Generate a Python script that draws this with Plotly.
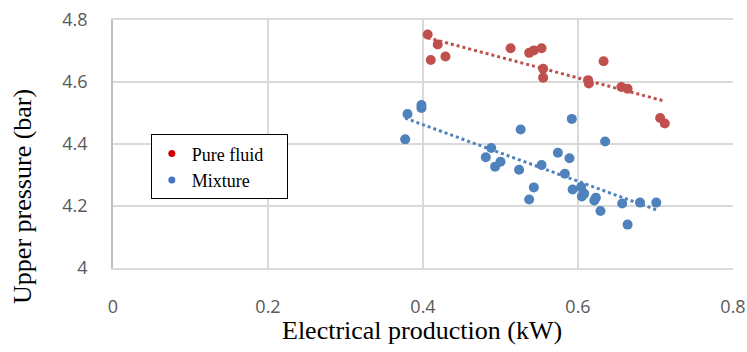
import numpy as np
import plotly.graph_objects as go

pure_x = [0.406, 0.419, 0.410, 0.429, 0.513, 0.537, 0.543, 0.553, 0.555, 0.555,
          0.633, 0.613, 0.614, 0.656, 0.664, 0.706, 0.712]
pure_y = [4.753, 4.721, 4.671, 4.682, 4.709, 4.694, 4.702, 4.709, 4.643, 4.614,
          4.667, 4.606, 4.595, 4.584, 4.578, 4.484, 4.466]

mix_x = [0.380, 0.398, 0.398, 0.377, 0.526, 0.488, 0.481, 0.493, 0.500, 0.524,
         0.553, 0.543, 0.537, 0.574, 0.592, 0.635, 0.589, 0.583, 0.593, 0.604,
         0.605, 0.608, 0.621, 0.623, 0.629, 0.657, 0.680, 0.701, 0.664]
mix_y = [4.497, 4.526, 4.516, 4.415, 4.447, 4.387, 4.357, 4.327, 4.343, 4.317,
         4.332, 4.260, 4.221, 4.372, 4.481, 4.408, 4.354, 4.304, 4.253, 4.261,
         4.231, 4.240, 4.218, 4.227, 4.184, 4.208, 4.211, 4.211, 4.140]

x_ticks = [0, 0.2, 0.4, 0.6, 0.8]
x_tick_labels = ["0", "0.2", "0.4", "0.6", "0.8"]
y_ticks = [4.0, 4.2, 4.4, 4.6, 4.8]
y_tick_labels = ["4", "4.2", "4.4", "4.6", "4.8"]

RED = "#C0504D"
BLUE = "#4F81BD"

fig = go.Figure()

def trend(xs, ys):
    a, b = np.polyfit(xs, ys, 1)
    xx = np.array([min(xs), max(xs)])
    return xx, a * xx + b

tx, ty = trend(pure_x, pure_y)
fig.add_trace(go.Scatter(x=tx, y=ty, mode="lines", line=dict(color=RED, width=3, dash="dot"),
                         showlegend=False, hoverinfo="skip"))
tx, ty = trend(mix_x, mix_y)
fig.add_trace(go.Scatter(x=tx, y=ty, mode="lines", line=dict(color=BLUE, width=3, dash="dot"),
                         showlegend=False, hoverinfo="skip"))

fig.add_trace(go.Scatter(x=pure_x, y=pure_y, mode="markers",
                         marker=dict(color=RED, size=10), showlegend=False))
fig.add_trace(go.Scatter(x=mix_x, y=mix_y, mode="markers",
                         marker=dict(color=BLUE, size=10), showlegend=False))

# legend entries
NB = "\u00a0" * 4
fig.add_trace(go.Scatter(x=[None], y=[None], mode="markers", name="Pure fluid" + NB,
                         marker=dict(color="#CC0000", size=7)))
fig.add_trace(go.Scatter(x=[None], y=[None], mode="markers", name="Mixture",
                         marker=dict(color="#4472C4", size=7)))

tick_font = dict(family="Open Sans, Liberation Sans, sans-serif", size=18, color="#595959")
title_font = dict(family="Liberation Serif, Times New Roman, serif", size=26, color="black")

fig.update_layout(
    width=747, height=352,
    margin=dict(l=113, r=14, t=20, b=84),
    paper_bgcolor="white", plot_bgcolor="white",
    showlegend=True,
    legend=dict(x=0.061, y=0.539, xanchor="left", yanchor="top",
                bordercolor="black", borderwidth=1, bgcolor="white",
                font=dict(family="Liberation Serif, serif", size=18, color="black"),
                itemwidth=30, tracegroupgap=0),
    xaxis=dict(range=[0, 0.8], tickvals=x_ticks, ticktext=x_tick_labels, automargin=False,
               showgrid=True, gridcolor="#D9D9D9", gridwidth=1.5,
               zeroline=False, showline=True, linecolor="#D9D9D9", linewidth=1.5, mirror=True,
               ticks="outside", ticklen=22, tickcolor="rgba(0,0,0,0)",
               tickfont=tick_font),
    yaxis=dict(range=[4.0, 4.8], tickvals=y_ticks, ticktext=y_tick_labels, automargin=False,
               showgrid=True, gridcolor="#D9D9D9", gridwidth=1.5,
               zeroline=False, showline=True, linecolor="#BFBFBF", linewidth=1.5, mirror=False,
               ticks="outside", ticklen=20, tickcolor="rgba(0,0,0,0)",
               tickfont=tick_font),
    annotations=[
        dict(text="Electrical production (kW)", xref="paper", yref="paper",
             x=0.498, y=-0.25, xanchor="center", yanchor="middle",
             showarrow=False, font=title_font),
        dict(text="Upper pressure (bar)", xref="paper", yref="paper",
             x=-0.147, y=0.29, xanchor="center", yanchor="middle", textangle=-90,
             showarrow=False, font=title_font),
    ],
)

fig.write_html("out.html", config={"displayModeBar": False},
               post_script="document.body.style.margin='0';document.body.style.padding='0';")
